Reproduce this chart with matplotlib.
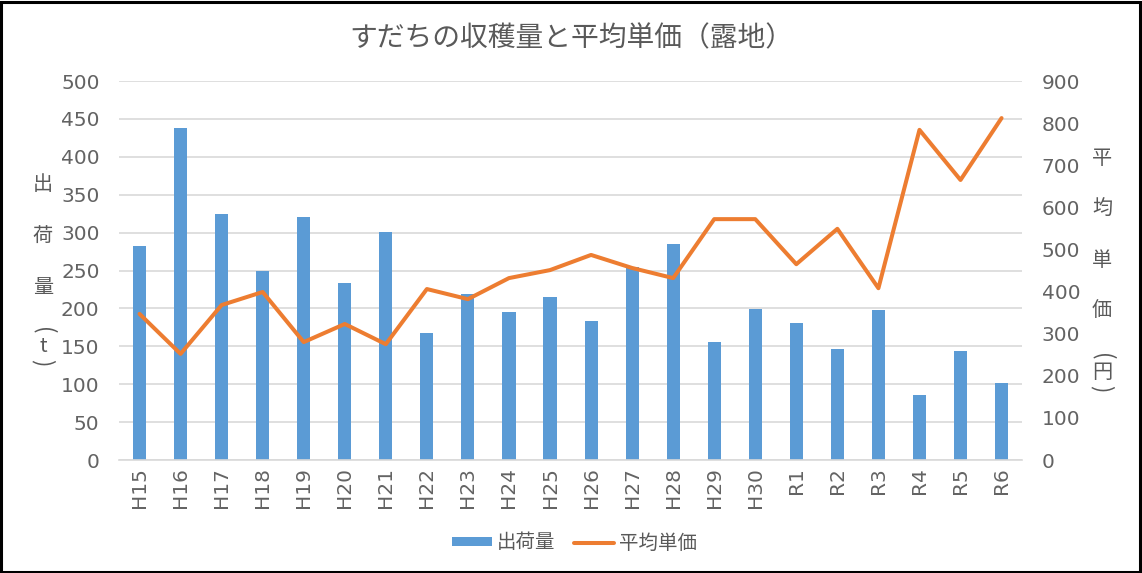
import matplotlib.pyplot as plt
import numpy as np

plt.rcParams['font.family'] = ['Noto Sans CJK JP', 'DejaVu Sans']

years = ['H15', 'H16', 'H17', 'H18', 'H19', 'H20', 'H21', 'H22', 'H23', 'H24', 'H25',
         'H26', 'H27', 'H28', 'H29', 'H30', 'R1', 'R2', 'R3', 'R4', 'R5', 'R6']
shipment = [283, 438, 324, 249, 321, 233, 301, 167, 219, 195, 215,
            183, 254, 285, 156, 199, 181, 146, 198, 86, 144, 101]
unit_price = [347, 252, 368, 399, 280, 323, 275, 406, 382, 432, 451,
              487, 456, 432, 572, 572, 465, 549, 408, 784, 665, 812]

text_col = '#595959'
grid_col = '#D9D9D9'
num_font = ['DejaVu Sans', 'Noto Sans CJK JP']

fig = plt.figure(figsize=(11.42, 5.73), dpi=100)
ax = fig.add_axes([0.1042, 0.1972, 0.7908, 0.6614])
ax2 = ax.twinx()

x = np.arange(len(years))
bars = ax.bar(x, shipment, width=0.32, color='#5B9BD5', label='出荷量', zorder=2)
line, = ax2.plot(x, unit_price, color='#ED7D31', lw=2.9, solid_joinstyle='round',
                 solid_capstyle='round', label='平均単価', zorder=3)

ax.set_xlim(-0.5, len(years) - 0.5)
ax.set_ylim(0, 500)
ax2.set_ylim(0, 900)
ax.set_yticks(range(0, 501, 50))
ax2.set_yticks(range(0, 901, 100))
ax.set_xticks(x)
ax.set_xticklabels(years, rotation=90)
ax.grid(axis='y', color=grid_col, lw=1.2, zorder=0)
ax.set_axisbelow(True)

for a in (ax, ax2):
    for s in a.spines.values():
        s.set_visible(False)
    a.tick_params(length=0, labelsize=14.5, labelcolor='#636363')
    for lab in a.get_xticklabels() + a.get_yticklabels():
        lab.set_family(num_font)
ax.tick_params(axis='y', pad=14)
ax2.tick_params(axis='y', pad=14)
ax.tick_params(axis='x', pad=5)
ax.spines['bottom'].set_visible(True)
ax.spines['bottom'].set_color(grid_col)
ax.spines['bottom'].set_linewidth(1.2)

fig.text(0.5, 1 - 38 / 573, 'すだちの収穫量と平均単価（露地）', ha='center', va='center',
         fontsize=20, color=text_col)

# vertical axis titles, one character at a time (parens turned sideways)
left_chars = [('出', 185, 0, 14.5), ('荷', 237, 0, 14.5), ('量', 287, 0, 14.5),
              ('(', 331, 270, 16), ('t', 347, 0, 14.5), (')', 363, 270, 16)]
for ch, yp, rot, fs in left_chars:
    fig.text(43 / 1142, 1 - yp / 573, ch, ha='center', va='center', fontsize=fs,
             color=text_col, rotation=rot)
right_chars = [('平', 158, 0, 14.5), ('均', 208, 0, 14.5), ('単', 260, 0, 14.5), ('価', 310, 0, 14.5),
               ('(', 357, 270, 16), ('円', 373, 0, 14.5), (')', 389, 270, 16)]
for ch, yp, rot, fs in right_chars:
    fig.text(1102 / 1142, 1 - yp / 573, ch, ha='center', va='center', fontsize=fs,
             color=text_col, rotation=rot)

fig.legend(handles=[bars, line], loc='center', bbox_to_anchor=(0.503, 1 - 543 / 573), ncol=2,
           frameon=False, fontsize=14, labelcolor=text_col, handlelength=2.05,
           handletextpad=0.25, columnspacing=0.95, handleheight=0.4)

# chart border
fig.patches.append(plt.Rectangle((0.001, 0.002), 0.997, 0.995, transform=fig.transFigure,
                                 fill=False, edgecolor='black', lw=2.2))

fig.savefig('out.png', dpi=100)
